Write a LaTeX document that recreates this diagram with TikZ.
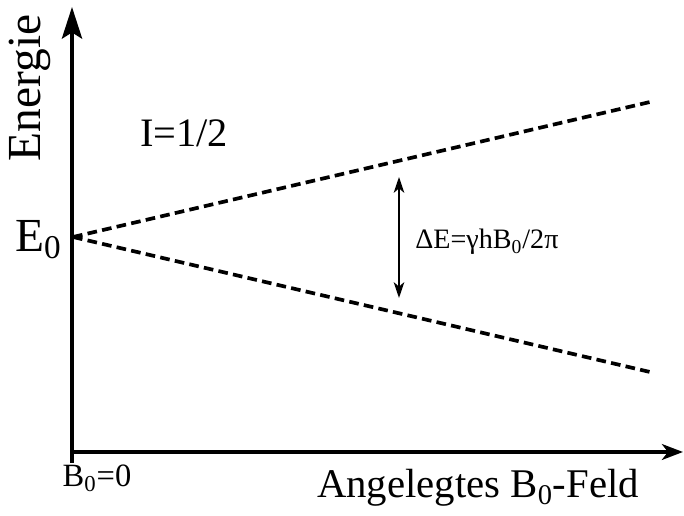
\documentclass[tikz,border=0pt]{standalone}
\usepackage{fontspec}
\setmainfont{Liberation Serif}
\usetikzlibrary{arrows.meta,positioning}
\tikzset{
  >={Stealth[length=12pt,width=9pt,inset=3.5pt]},
  % achsen und niveaus
  achse/.style={->,line width=2.1pt},
  yachse/.style={-{Stealth[length=18pt,width=11.5pt,inset=3.5pt]},line width=2.1pt},
  niveau/.style={line width=2.1pt,dash pattern=on 5.5pt off 3pt},
  spalt/.style={{Stealth[length=9pt,width=6pt,inset=2.5pt]}-{Stealth[length=9pt,width=6pt,inset=2.5pt]},line width=1pt},
  lbl/.style={inner sep=0pt},
}
\begin{document}
\begin{tikzpicture}[x=0.02cm,y=-0.02cm]
\useasboundingbox (0,0) rectangle (684,516);
  \coordinate (O) at (72,452);
  \coordinate (ytop) at (72,7);
  \coordinate (ybot) at (72,463);
  \coordinate (xend) at (683,452);
  \coordinate (E0) at (73,237);
  \coordinate (up) at (650,102);
  \coordinate (lo) at (650,372);
  \coordinate (dtop) at (399,177);
  \coordinate (dbot) at (399,298);
  \draw[yachse] (ybot) -- (ytop);
  \draw[achse] (O) -- (xend);
  \draw[niveau] (E0) -- (up);
  \draw[niveau] (E0) -- (lo);
  \draw[spalt] (dtop) -- (dbot);
  \node[lbl,rotate=90] (energie) at (30,88) {\fontsize{27}{30}\selectfont Energie};
  \node[lbl,anchor=east] (e0) at (62,240) {\fontsize{27}{30}\selectfont E\textsubscript{0}};
  \node[lbl] (spin) at (184,133) {\fontsize{23}{26}\selectfont I=1/2};
  \node[lbl,anchor=west] (dE) at (415,242) {\fontsize{16}{20}\selectfont ΔE=γhB\textsubscript{0}/2π};
  \node[lbl] (b0) at (97,478) {\fontsize{18.5}{22}\selectfont B\textsubscript{0}=0};
  \node[lbl] (xlab) at (478,488) {\fontsize{23.2}{26}\selectfont Angelegtes B\textsubscript{0}-Feld};
\end{tikzpicture}
\end{document}
